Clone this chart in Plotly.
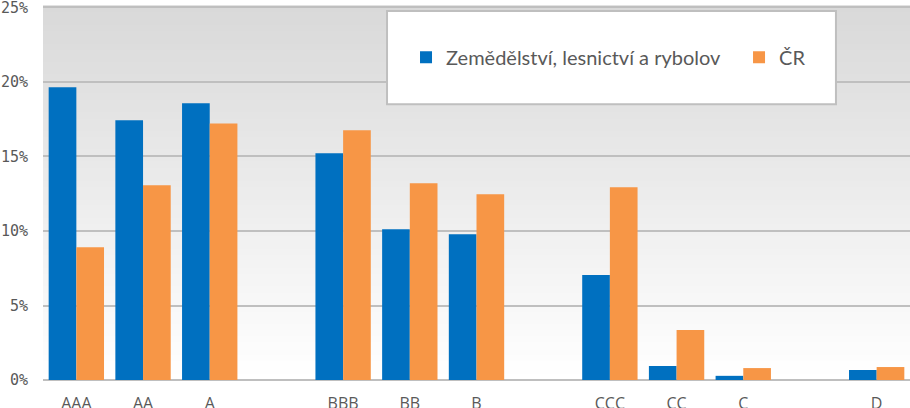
import plotly.graph_objects as go

categories = ["AAA", "AA", "A", " ", "BBB", "BB", "B", "  ", "CCC", "CC", "C", "   ", "D"]
zemedelstvi = [19.64, 17.43, 18.57, None, 15.21, 10.12, 9.79, None, 7.04, 0.94, 0.28, None, 0.67]
cr = [8.91, 13.07, 17.22, None, 16.76, 13.2, 12.47, None, 12.94, 3.35, 0.8, None, 0.87]
series_names = ["Zemědělství, lesnictví a rybolov", "ČR"]
y_ticks = [0, 5, 10, 15, 20, 25]
y_tick_labels = ["0%", "5%", "10%", "15%", "20%", "25%"]

fig = go.Figure()
fig.add_trace(go.Bar(x=categories, y=zemedelstvi, name=series_names[0],
                     marker_color="#0070C0", marker_line_width=0, legend="legend"))
fig.add_trace(go.Bar(x=categories, y=cr, name=series_names[1],
                     marker_color="#F79646", marker_line_width=0, legend="legend2"))

# gradient background (grey at top to white at bottom)
shapes = []
n = 60
for i in range(n):
    f = i / (n - 1)
    c = int(round(217 + (255 - 217) * (1 - f)))
    shapes.append(dict(type="rect", xref="paper", yref="paper",
                       x0=0, x1=1, y0=i / n, y1=(i + 1) / n + 0.002,
                       fillcolor=f"rgb({c},{c},{c})", line_width=0, layer="below"))
# legend box
shapes.append(dict(type="rect", xref="paper", yref="paper",
                   x0=0.3968, x1=0.9146, y0=0.737, y1=0.9866,
                   fillcolor="white", line=dict(color="#bfbfbf", width=2), layer="above"))

legend_font = dict(family="Lato", size=20, color="#595959")
fig.update_layout(
    width=910, height=408,
    margin=dict(l=43, r=0, t=6, b=28),
    paper_bgcolor="white",
    plot_bgcolor="rgba(0,0,0,0)",
    barmode="group", bargap=0.17, bargroupgap=0,
    shapes=shapes,
    showlegend=True,
    legend=dict(orientation="h", x=0.4187, y=0.863, xanchor="left", yanchor="middle",
                bgcolor="rgba(0,0,0,0)", borderwidth=0, font=legend_font, itemwidth=30),
    legend2=dict(orientation="h", x=0.8028, y=0.863, xanchor="left", yanchor="middle",
                 bgcolor="rgba(0,0,0,0)", borderwidth=0, font=legend_font, itemwidth=30),
    xaxis=dict(type="category", showgrid=False, zeroline=False, showline=False,
               automargin=False, ticklabeloverflow="allow",
               ticks="outside", ticklen=9, tickcolor="rgba(0,0,0,0)",
               tickfont=dict(family="Open Sans", size=16, color="#595959")),
    yaxis=dict(range=[0, 25.1], tickvals=y_ticks, ticktext=y_tick_labels,
               automargin=False, ticklabeloverflow="allow",
               showgrid=True, gridcolor="#bfbfbf", gridwidth=2,
               zeroline=True, zerolinecolor="#bfbfbf", zerolinewidth=2,
               showline=False, ticks="outside", ticklen=11, tickcolor="rgba(0,0,0,0)",
               tickfont=dict(family="DejaVu Sans Mono", size=15, color="#595959")),
)

fig.write_html("out.html")
